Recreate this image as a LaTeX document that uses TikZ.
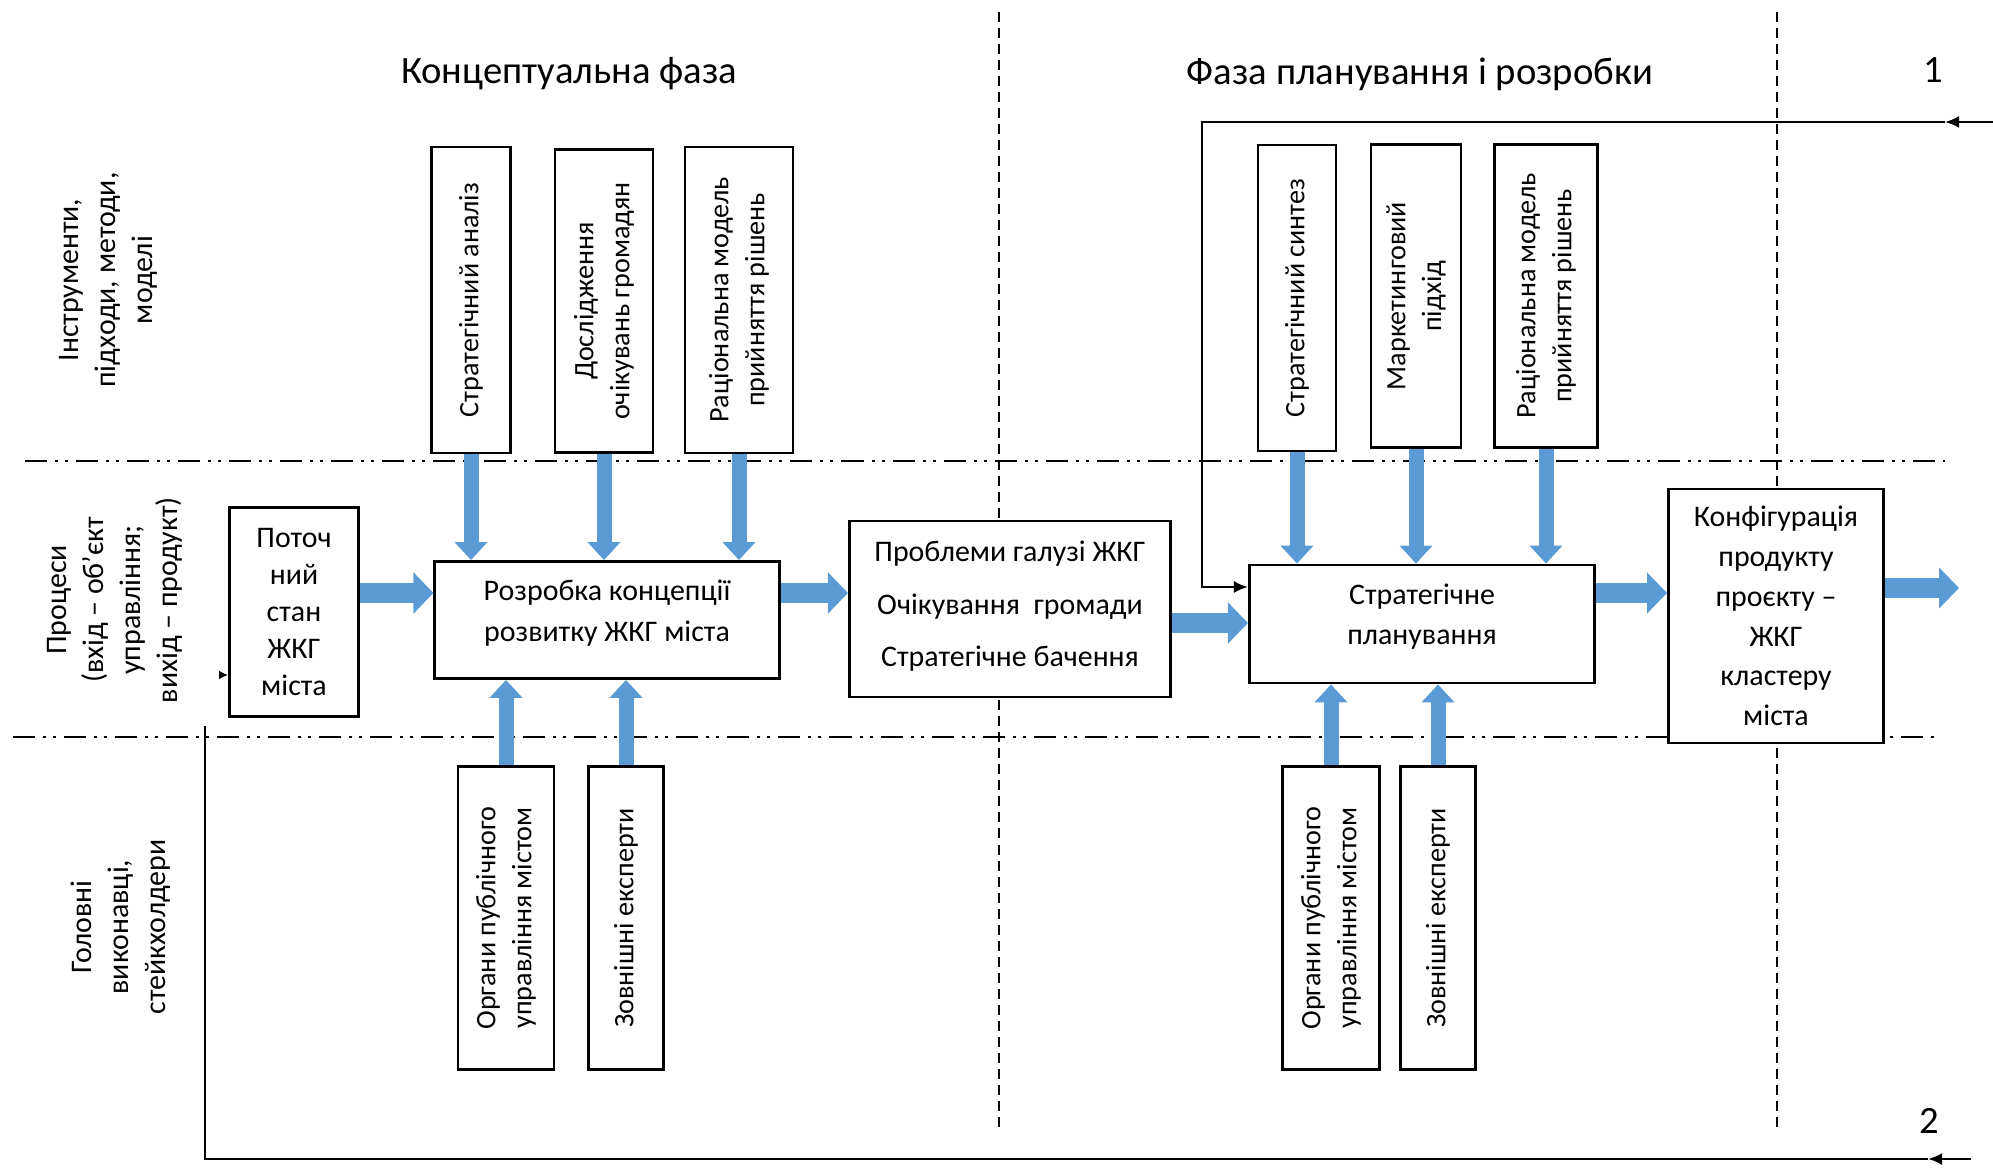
\documentclass[tikz,border=0pt]{standalone}
\usepackage{fontspec}
\setmainfont{Carlito}
\usetikzlibrary{arrows.meta}
\definecolor{flowblue}{RGB}{91,155,213}

\begin{document}
\begin{tikzpicture}[x=0.01cm, y=-0.01cm,
    box/.style={draw, line width=0.8pt, fill=white, align=center, inner sep=2pt, font=\fontsize{8.5}{11.5}\selectfont},
    vbox/.style={box, rotate=90, font=\fontsize{8}{10.2}\selectfont},
    fatvert/.style={draw=flowblue, line width=0.15cm, -{Triangle[length=0.18cm, width=0.32cm]}},
    fathor/.style={draw=flowblue, line width=0.19cm, -{Triangle[length=0.2cm, width=0.4cm]}},
    lane/.style={line width=0.8pt, dash pattern=on 0.22cm off 0.08cm on 0.03cm off 0.07cm on 0.03cm off 0.08cm},
    phase/.style={line width=0.6pt, dash pattern=on 0.1cm off 0.06cm},
    feedback/.style={line width=0.7pt},
    rowlabel/.style={rotate=90, align=center, font=\fontsize{8.5}{10.5}\selectfont}]
  \useasboundingbox (0,0) rectangle (1993,1170);

  % swimlanes and phases
  \draw[lane] (25,461) -- (1945,461);
  \draw[lane] (13,737) -- (1934,737);
  \draw[phase] (999,12) -- (999,1131);
  \draw[phase] (1777,12) -- (1777,1131);

  \node[font=\fontsize{11}{13}\selectfont] (tconc) at (569,74) {Концептуальна фаза};
  \node[font=\fontsize{11}{13}\selectfont] (tplan) at (1420,74) {Фаза планування і розробки};
  \node[font=\fontsize{11}{13}\selectfont] (num1) at (1933,70) {1};
  \node[font=\fontsize{11}{13}\selectfont] (num2) at (1929,1121) {2};

  \node[rowlabel] (rtools) at (108,280) {Інструменти,\\підходи, методи,\\моделі};
  \node[rowlabel] (rproc) at (115,600) {Процеси\\(вхід – об’єкт\\управління;\\вихід – продукт)};
  \node[rowlabel] (ractors) at (121,927) {Головні\\виконавці,\\стейкхолдери};

  % tools
  \node[vbox, minimum width=3.06cm, minimum height=0.79cm] (sa) at (471,300) {Стратегічний аналіз};
  \node[vbox, minimum width=3.03cm, minimum height=0.98cm] (dog) at (604,301) {Дослідження\\очікувань громадян};
  \node[vbox, minimum width=3.06cm, minimum height=1.08cm] (rmA) at (739,300) {Раціональна модель\\прийняття рішень};
  \node[vbox, minimum width=3.06cm, minimum height=0.78cm] (ss) at (1297,298) {Стратегічний синтез};
  \node[vbox, minimum width=3.03cm, minimum height=0.90cm] (mp) at (1416,296) {Маркетинговий\\підхід};
  \node[vbox, minimum width=3.03cm, minimum height=1.03cm] (rmB) at (1546,296) {Раціональна модель\\прийняття рішень};

  % processes
  \node[box, font=\fontsize{8.5}{10.5}\selectfont, minimum width=1.29cm, minimum height=2.09cm] (poto) at (294,612) {Поточ\\ний\\стан\\ЖКГ\\міста};
  \node[box, font=\fontsize{8.5}{11.6}\selectfont, text depth=5.5pt, minimum width=3.44cm, minimum height=1.17cm] (rozr) at (607,620) {Розробка концепції\\розвитку ЖКГ міста};
  \node[box, font=\fontsize{8.5}{15}\selectfont, text depth=3pt, minimum width=3.21cm, minimum height=1.76cm] (probl) at (1010,609) {Проблеми галузі ЖКГ\\Очікування\ \ громади\\Стратегічне бачення};
  \node[box, font=\fontsize{8.5}{11.4}\selectfont, text depth=5.5pt, minimum width=3.45cm, minimum height=1.18cm] (splan) at (1422,624) {Стратегічне\\планування};
  \node[box, font=\fontsize{8.5}{11.3}\selectfont, minimum width=2.15cm, minimum height=2.54cm] (konf) at (1776,616) {Конфігурація\\продукту\\проєкту –\\ЖКГ\\кластеру\\міста};

  % actors
  \node[vbox, minimum width=3.03cm, minimum height=0.96cm] (orgA) at (506,918) {Органи публічного\\управління містом};
  \node[vbox, minimum width=3.03cm, minimum height=0.75cm] (zovA) at (626,918) {Зовнішні експерти};
  \node[vbox, minimum width=3.03cm, minimum height=0.97cm] (orgB) at (1331,918) {Органи публічного\\управління містом};
  \node[vbox, minimum width=3.03cm, minimum height=0.75cm] (zovB) at (1438,918) {Зовнішні експерти};

  % blue flows
  \foreach \t in {sa,dog,rmA}
    \draw[fatvert] (\t.west) -- (\t.west |- rozr.north);
  \foreach \t in {ss,mp,rmB}
    \draw[fatvert] (\t.west) -- (\t.west |- splan.north);
  \foreach \t in {orgA,zovA}
    \draw[fatvert] (\t.east) -- (\t.east |- rozr.south);
  \foreach \t in {orgB,zovB}
    \draw[fatvert] (\t.east) -- (\t.east |- splan.south);
  \draw[fathor] (poto.east |- 0,593) -- (rozr.west |- 0,593);
  \draw[fathor] (rozr.east |- 0,593) -- (probl.west |- 0,593);
  \draw[fathor] (probl.east |- 0,623) -- (splan.west |- 0,623);
  \draw[fathor] (splan.east |- 0,593) -- (konf.west |- 0,593);
  \coordinate (out) at (1959,588);
  \draw[fathor] (konf.east |- out) -- (out);

  % feedback 1
  \coordinate (fbA) at (1993,122);
  \coordinate (fbAtip) at (1945,122);
  \coordinate (fbAcorner) at (1202,122);
  \draw[feedback, -{Latex[length=0.14cm, width=0.12cm]}] (fbA) -- (fbAtip);
  \draw[feedback, -{Latex[length=0.14cm, width=0.12cm]}] (fbAtip) -- (fbAcorner) |- (splan.west |- 0,587);

  % feedback 2
  \coordinate (fbB) at (1971,1159);
  \coordinate (fbBtip) at (1928,1159);
  \coordinate (fbBcorner) at (205,1159);
  \coordinate (fbBtop) at (205,726);
  \draw[feedback, -{Latex[length=0.14cm, width=0.12cm]}] (fbB) -- (fbBtip);
  \draw[feedback] (fbBtip) -- (fbBcorner) -- (fbBtop);
  \coordinate (fbBstub) at (221,675);
  \draw[feedback, -{Latex[length=0.09cm, width=0.09cm]}] (fbBstub) -- (poto.west |- fbBstub);
\end{tikzpicture}
\end{document}
